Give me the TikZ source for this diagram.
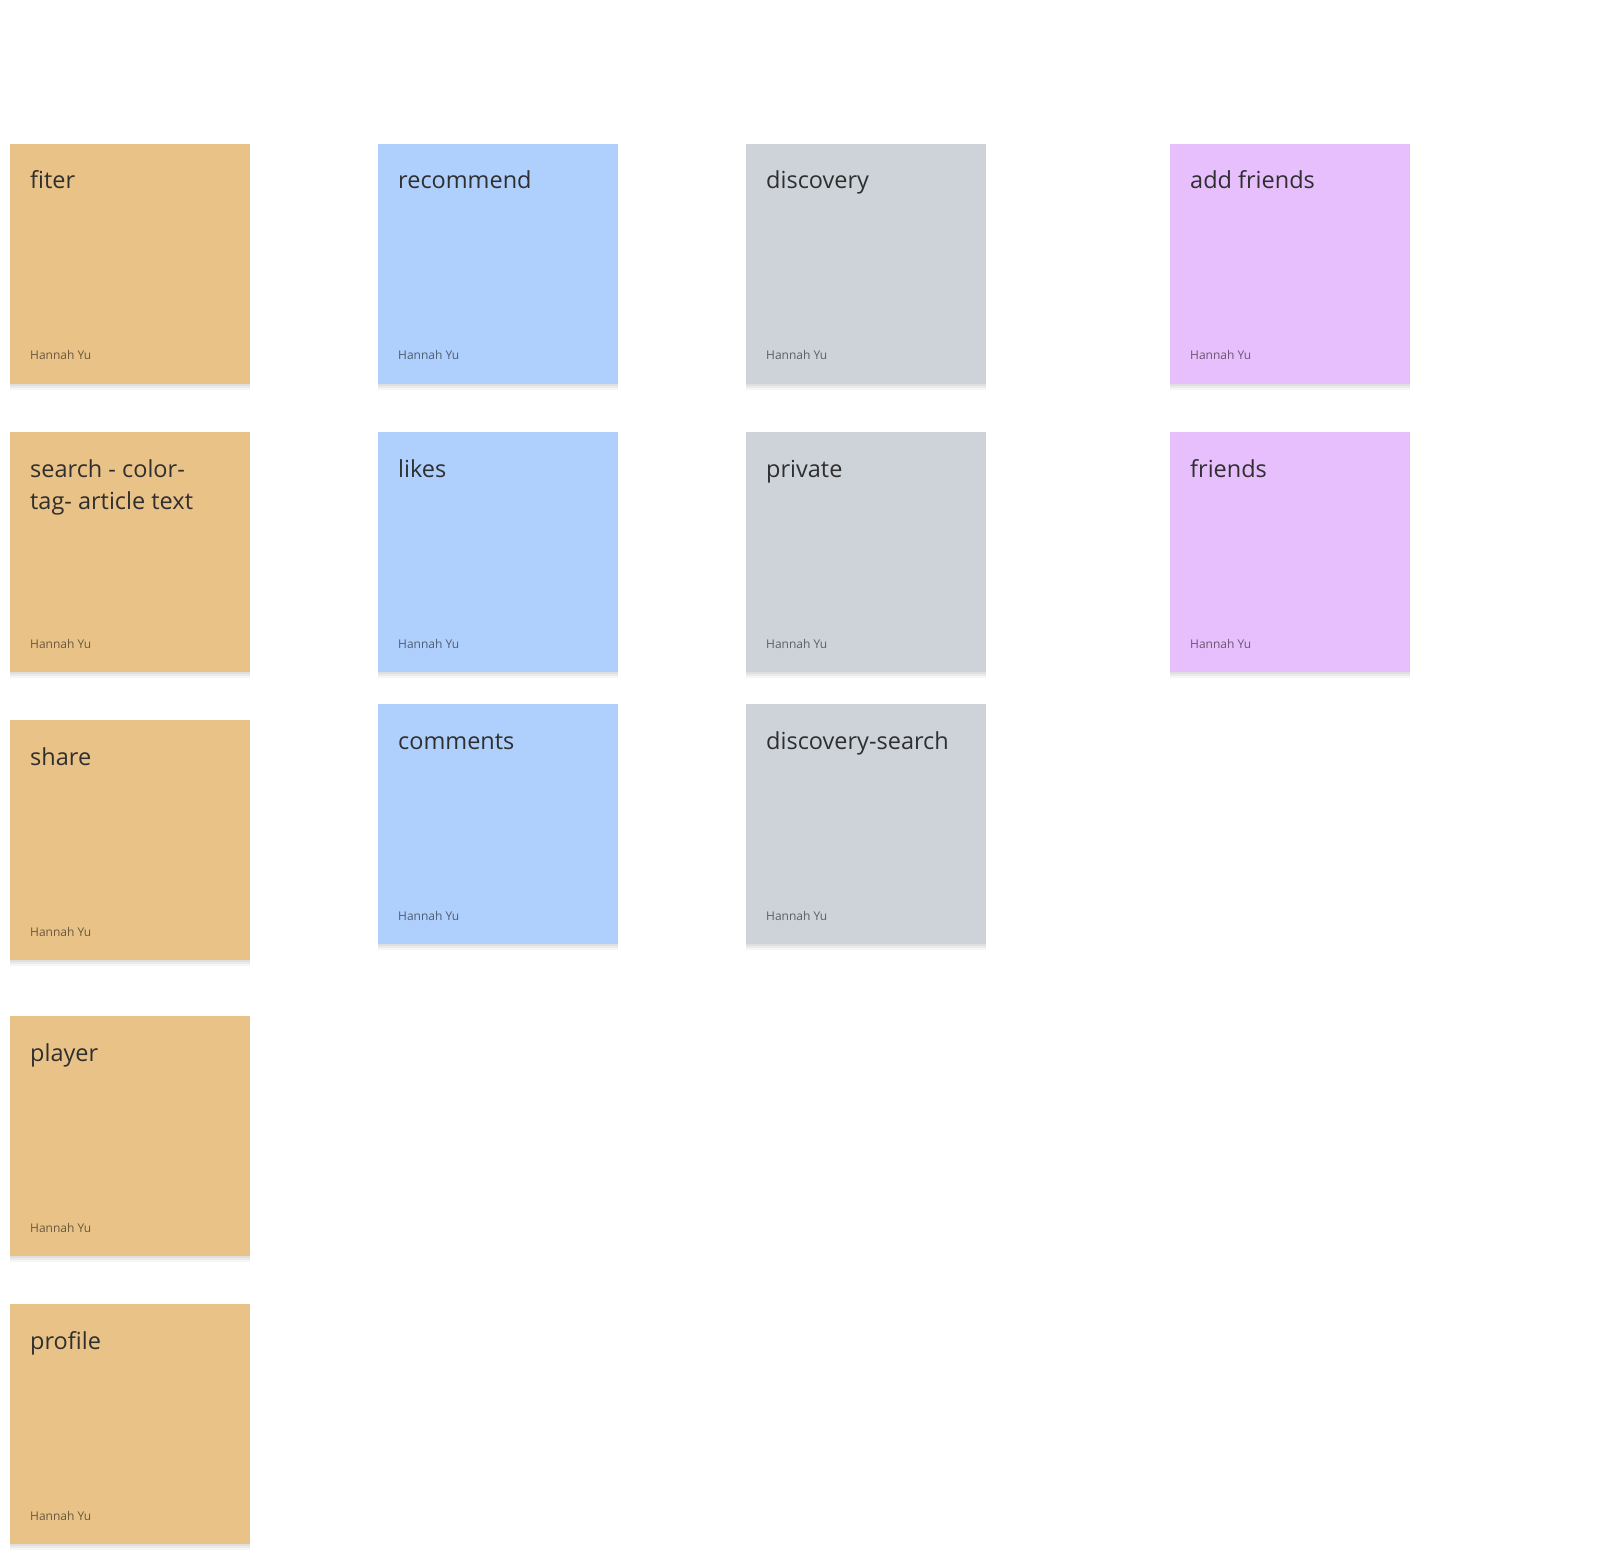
\documentclass[tikz,border=0pt]{standalone}
\usepackage{fontspec}
\setmainfont{Open Sans}
\definecolor{stickyorange}{HTML}{E9C287}
\definecolor{stickyblue}{HTML}{AFCFFD}
\definecolor{stickygray}{HTML}{CED3DA}
\definecolor{stickypurple}{HTML}{E8BFFD}
\definecolor{inktext}{HTML}{2F2F2F}
\tikzset{
	sticky/.style={anchor=north west, minimum width=240pt, minimum height=240pt, inner sep=0pt, draw=none,
		preaction={fill=black, fill opacity=0.035, transform canvas={yshift=-6pt}},
		preaction={fill=black, fill opacity=0.04, transform canvas={yshift=-4pt}},
		preaction={fill=black, fill opacity=0.05, transform canvas={yshift=-2pt}}},
	title/.style={anchor=base west, inner sep=0pt, text=inktext, align=left,
		font=\fontsize{23.5pt}{32pt}\selectfont},
	byline/.style={anchor=base west, inner sep=0pt, text=black, text opacity=0.55,
		font=\fontsize{12pt}{14pt}\selectfont}
}
\begin{document}
\begin{tikzpicture}[x=1pt,y=-1pt]
	\useasboundingbox[fill=white] (0,0) rectangle (1618,1562);
	% first column
	\node[sticky, fill=stickyorange] (fiter) at (10,144) {};
	\node[sticky, fill=stickyorange] (search) at (10,432) {};
	\node[sticky, fill=stickyorange] (share) at (10,720) {};
	\node[sticky, fill=stickyorange] (player) at (10,1016) {};
	\node[sticky, fill=stickyorange] (profile) at (10,1304) {};
	% second column
	\node[sticky, fill=stickyblue] (recommend) at (378,144) {};
	\node[sticky, fill=stickyblue] (likes) at (378,432) {};
	\node[sticky, fill=stickyblue] (comments) at (378,704) {};
	% third column
	\node[sticky, fill=stickygray] (discovery) at (746,144) {};
	\node[sticky, fill=stickygray] (private) at (746,432) {};
	\node[sticky, fill=stickygray] (dsearch) at (746,704) {};
	% fourth column
	\node[sticky, fill=stickypurple] (addfriends) at (1170,144) {};
	\node[sticky, fill=stickypurple] (friends) at (1170,432) {};
	% titles
	\node[title] (fiter-t) at ([shift={(20,45)}]fiter.north west) {fiter};
	\node[title] (search-t) at ([shift={(20,77)}]search.north west) {search - color-\\tag- article text};
	\node[title] (share-t) at ([shift={(20,45)}]share.north west) {share};
	\node[title] (player-t) at ([shift={(20,45)}]player.north west) {player};
	\node[title] (profile-t) at ([shift={(20,45)}]profile.north west) {profile};
	\node[title] (recommend-t) at ([shift={(20,45)}]recommend.north west) {recommend};
	\node[title] (likes-t) at ([shift={(20,45)}]likes.north west) {likes};
	\node[title] (comments-t) at ([shift={(20,45)}]comments.north west) {comments};
	\node[title] (discovery-t) at ([shift={(20,45)}]discovery.north west) {discovery};
	\node[title] (private-t) at ([shift={(20,45)}]private.north west) {private};
	\node[title] (dsearch-t) at ([shift={(20,45)}]dsearch.north west) {discovery-search};
	\node[title] (addfriends-t) at ([shift={(20,45)}]addfriends.north west) {add friends};
	\node[title] (friends-t) at ([shift={(20,45)}]friends.north west) {friends};
	% authors
	\node[byline] (fiter-by) at ([shift={(20,216)}]fiter.north west) {Hannah Yu};
	\node[byline] (search-by) at ([shift={(20,216)}]search.north west) {Hannah Yu};
	\node[byline] (share-by) at ([shift={(20,216)}]share.north west) {Hannah Yu};
	\node[byline] (player-by) at ([shift={(20,216)}]player.north west) {Hannah Yu};
	\node[byline] (profile-by) at ([shift={(20,216)}]profile.north west) {Hannah Yu};
	\node[byline] (recommend-by) at ([shift={(20,216)}]recommend.north west) {Hannah Yu};
	\node[byline] (likes-by) at ([shift={(20,216)}]likes.north west) {Hannah Yu};
	\node[byline] (comments-by) at ([shift={(20,216)}]comments.north west) {Hannah Yu};
	\node[byline] (discovery-by) at ([shift={(20,216)}]discovery.north west) {Hannah Yu};
	\node[byline] (private-by) at ([shift={(20,216)}]private.north west) {Hannah Yu};
	\node[byline] (dsearch-by) at ([shift={(20,216)}]dsearch.north west) {Hannah Yu};
	\node[byline] (addfriends-by) at ([shift={(20,216)}]addfriends.north west) {Hannah Yu};
	\node[byline] (friends-by) at ([shift={(20,216)}]friends.north west) {Hannah Yu};
\end{tikzpicture}
\end{document}
